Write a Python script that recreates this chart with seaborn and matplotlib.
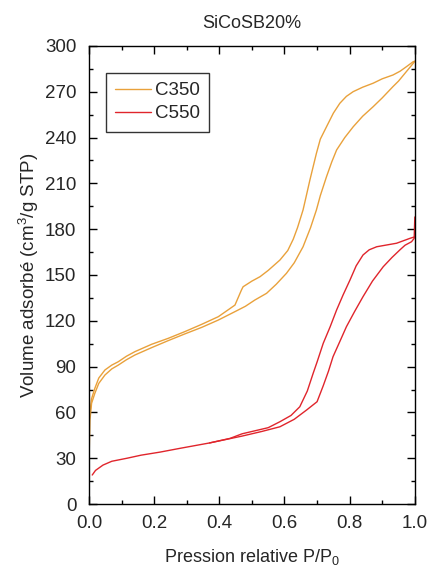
import matplotlib
matplotlib.use("Agg")
import matplotlib.pyplot as plt
from matplotlib.ticker import MultipleLocator
import pandas as pd
import seaborn as sns

# C350 isotherm (orange) - adsorption / desorption branches
c350_ads_p = [0.0, 0.003, 0.008, 0.018, 0.03, 0.049, 0.07, 0.09, 0.115, 0.141, 0.192, 0.243,
              0.294, 0.346, 0.397, 0.448, 0.48, 0.509, 0.545, 0.575, 0.606, 0.63, 0.657,
              0.68, 0.698, 0.71, 0.729, 0.745, 0.76, 0.785, 0.811, 0.84, 0.872, 0.9,
              0.933, 0.95, 0.974, 0.995, 1.0]
c350_ads_v = [27, 55, 66, 72.5, 79, 84.5, 88.5, 91, 94.5, 97.6, 102.4, 107,
              111.4, 115.7, 120.5, 126, 129.5, 133.6, 138, 144, 151.1, 158, 168.5,
              181, 192.6, 202, 214.4, 224, 231.9, 240, 247.1, 254, 260.2, 266,
              273.4, 277, 283.2, 288.6, 290]
c350_des_p = [1.0, 0.995, 0.974, 0.955, 0.933, 0.9, 0.872, 0.84, 0.811, 0.79, 0.77, 0.75,
              0.729, 0.71, 0.698, 0.678, 0.665, 0.657, 0.64, 0.627, 0.61, 0.586, 0.55,
              0.525, 0.5, 0.473, 0.468, 0.448, 0.397, 0.346, 0.294, 0.243, 0.192,
              0.141, 0.115, 0.09, 0.07, 0.049, 0.03, 0.018, 0.008, 0.003]
c350_des_v = [290, 289.7, 286.4, 283.5, 281, 278.5, 275.6, 273, 270.1, 267, 262.5, 256,
              247.1, 239, 229.7, 212.2, 200, 192.6, 181, 173.5, 166, 159.8, 153,
              148.9, 146, 142.3, 140.2, 130.3, 122.7, 117.7, 112.9, 108.5, 104.6,
              99.8, 96.8, 93.2, 91, 87.8, 82.5, 75.8, 69, 60]

# C550 isotherm (red)
c550_ads_p = [0.01, 0.02, 0.043, 0.07, 0.117, 0.16, 0.218, 0.28, 0.37, 0.47, 0.53, 0.586,
              0.63, 0.668, 0.7, 0.719, 0.735, 0.749, 0.77, 0.79, 0.815, 0.841, 0.87,
              0.903, 0.93, 0.954, 0.97, 0.99, 0.998, 1.0]
c550_ads_v = [19, 22, 25.5, 28, 30, 32, 34, 36.5, 40, 44.5, 47.5, 50.6,
              55.5, 61.6, 67, 77.5, 87, 96.5, 106.5, 116.1, 126, 135.8, 146,
              155.4, 161.5, 166.4, 169.5, 171.8, 174, 188]
c550_des_p = [1.0, 0.985, 0.944, 0.883, 0.86, 0.841, 0.82, 0.801, 0.78, 0.76, 0.74, 0.719,
              0.7, 0.688, 0.67, 0.647, 0.62, 0.586, 0.55, 0.5, 0.47, 0.433, 0.37]
c550_des_v = [175, 174, 170.8, 168.5, 166.5, 163.1, 156, 146.7, 137, 127.1, 116, 105.3,
              93, 85.6, 74, 63.7, 58, 53.9, 50, 47.5, 46, 43, 40]

x_ticks = [0.0, 0.2, 0.4, 0.6, 0.8, 1.0]
y_ticks = [0, 30, 60, 90, 120, 150, 180, 210, 240, 270, 300]

frames = []
for name, branch, p, v in [("C350", "ads", c350_ads_p, c350_ads_v),
                           ("C350", "des", c350_des_p, c350_des_v),
                           ("C550", "ads", c550_ads_p, c550_ads_v),
                           ("C550", "des", c550_des_p, c550_des_v)]:
    frames.append(pd.DataFrame({"p": p, "v": v, "sample": name, "branch": branch}))
df = pd.concat(frames, ignore_index=True)

sns.set_style("ticks")
plt.rcParams["font.family"] = ["Liberation Sans", "DejaVu Sans"]
plt.rcParams["mathtext.fontset"] = "custom"
plt.rcParams["mathtext.rm"] = "Liberation Sans"
plt.rcParams["mathtext.it"] = "Liberation Sans"

fig = plt.figure(figsize=(4.33, 5.69), dpi=100)
ax = fig.add_axes([0.2055, 0.1142, 0.7525, 0.8050])

palette = {"C350": "#E9A13B", "C550": "#E0252C"}
sns.lineplot(data=df, x="p", y="v", hue="sample", units="branch", estimator=None,
             sort=False, palette=palette, linewidth=1.0, ax=ax)

ax.set_xlim(0, 1.0)
ax.set_ylim(0, 300)
ax.set_xticks(x_ticks)
ax.set_xticklabels([f"{t:.1f}" for t in x_ticks])
ax.set_yticks(y_ticks)
ax.xaxis.set_minor_locator(MultipleLocator(0.1))
ax.yaxis.set_minor_locator(MultipleLocator(15))
ax.tick_params(which="both", direction="in", top=True, right=True, labelsize=13.5,
               width=1.0, color="black")
ax.tick_params(which="major", length=6)
ax.tick_params(which="minor", length=3)
ax.tick_params(axis="x", which="major", pad=8)
ax.tick_params(axis="y", which="major", pad=9)
for s in ax.spines.values():
    s.set_linewidth(1.0)
    s.set_color("black")

ax.set_xlabel("Pression relative P/P$_0$", fontsize=13, labelpad=11)
ax.set_ylabel("Volume adsorbé (cm$^3$/g STP)", fontsize=13.5, labelpad=3)
ax.set_title("SiCoSB20%", fontsize=13, pad=13)

leg = ax.legend(loc="upper left", bbox_to_anchor=(0.052, 0.941), borderaxespad=0,
                fontsize=13.5, frameon=True, fancybox=False, edgecolor="black",
                handlelength=1.9, borderpad=0.5, labelspacing=0.3, handletextpad=0.2)
leg.get_frame().set_linewidth(1.0)

fig.savefig("out.png", dpi=100)
